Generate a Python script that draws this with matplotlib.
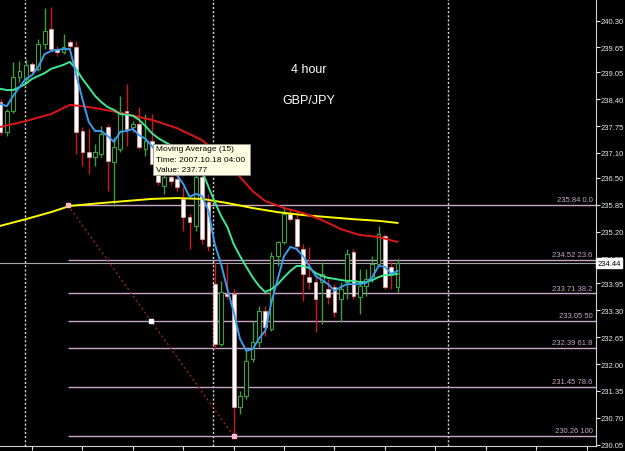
import matplotlib
matplotlib.use("Agg")
import matplotlib.pyplot as plt
from matplotlib.patches import Rectangle
import numpy as np

# GBP/JPY 4h candles (oldest first)
opens = [238.33, 237.61, 238.11, 238.94, 238.89, 239.25, 239.13, 239.73, 240.10, 239.61,
         239.54, 239.78, 239.66, 237.63, 237.12, 237.00, 237.07, 237.73, 236.88, 237.20,
         238.11, 237.73, 237.80, 237.20, 237.39, 236.71, 236.30, 236.52, 236.47, 235.99,
         235.55, 235.34, 236.52, 235.92, 233.93, 232.49, 233.69, 233.69, 230.96, 231.23,
         232.12, 232.53, 233.28, 232.85, 234.61, 234.95, 235.63, 235.50, 234.78, 234.10,
         233.98, 233.98, 233.81, 233.86, 233.57, 233.98, 234.71, 233.62, 233.89, 234.06,
         234.42, 235.09, 234.35, 233.86]
highs = [238.40, 238.16, 239.30, 239.32, 239.37, 239.30, 239.85, 240.60, 240.63, 239.68,
         239.97, 239.83, 239.81, 237.73, 237.68, 237.32, 237.75, 237.80, 237.49, 238.48,
         238.77, 237.87, 238.21, 238.04, 238.04, 237.20, 236.76, 236.66, 236.83, 236.28,
         235.63, 236.57, 236.71, 236.11, 234.46, 234.01, 234.42, 233.81, 231.35, 232.36,
         233.04, 233.40, 233.40, 234.71, 234.97, 235.79, 235.75, 235.70, 234.90, 234.83,
         234.18, 234.46, 234.06, 233.93, 233.98, 234.78, 234.78, 234.30, 234.30, 234.61,
         235.34, 235.14, 234.49, 234.54]
lows = [237.53, 237.51, 238.07, 238.81, 238.81, 239.03, 239.08, 239.61, 239.56, 239.44,
        239.49, 239.61, 237.07, 236.79, 236.59, 236.79, 237.00, 236.18, 235.82, 237.12,
        237.27, 237.61, 237.20, 237.03, 236.95, 236.33, 236.11, 236.33, 236.18, 235.21,
        234.78, 235.21, 234.90, 234.73, 232.36, 232.44, 233.57, 230.26, 230.79, 231.16,
        232.05, 232.41, 232.68, 232.80, 234.37, 234.90, 235.46, 234.73, 233.52, 233.81,
        232.77, 232.97, 233.45, 233.14, 233.02, 233.57, 233.57, 233.21, 233.64, 233.98,
        234.37, 233.81, 233.81, 233.74]
closes = [237.61, 238.11, 238.94, 239.08, 239.23, 239.08, 239.73, 240.05, 239.61, 239.54,
          239.66, 239.68, 237.61, 237.12, 237.00, 237.12, 237.56, 236.91, 237.24, 238.09,
          237.68, 237.80, 237.24, 237.39, 236.83, 236.40, 236.52, 236.42, 236.28, 235.55,
          235.43, 236.52, 235.02, 234.85, 232.49, 233.74, 233.64, 230.96, 231.23, 232.07,
          232.53, 233.28, 232.90, 234.61, 234.95, 235.63, 235.50, 234.85, 234.18, 233.98,
          233.57, 234.18, 233.62, 233.26, 233.81, 234.66, 233.64, 233.89, 234.06, 234.42,
          235.14, 233.86, 234.18, 234.44]

# moving averages, values per candle
ma_blue = [238.28, 238.23, 238.48, 238.69, 238.89, 238.98, 239.18, 239.49, 239.56, 239.59,
           239.61, 239.61, 239.01, 238.40, 237.85, 237.63, 237.63, 237.51, 237.37, 237.61,
           237.63, 237.68, 237.53, 237.44, 237.27, 237.07, 236.88, 236.71, 236.57, 236.35,
           236.04, 236.11, 236.06, 235.70, 234.90, 234.42, 233.81, 233.26, 232.61, 232.32,
           232.36, 232.61, 232.80, 233.50, 234.06, 234.61, 234.83, 234.78, 234.61, 234.37,
           234.13, 234.03, 233.93, 233.77, 233.86, 233.93, 233.93, 233.93, 233.96, 234.10,
           234.37, 234.35, 234.18, 234.25]
ma15 = [238.65, 238.62, 238.62, 238.69, 238.77, 238.89, 238.96, 239.03, 239.13, 239.18,
        239.23, 239.30, 239.13, 238.89, 238.69, 238.48, 238.33, 238.21, 238.14, 238.04,
        238.02, 238.00, 237.90, 237.75, 237.58, 237.46, 237.37, 237.29, 237.24, 237.20,
        237.12, 236.95, 236.66, 236.28, 235.92, 235.58, 235.31, 234.90, 234.61, 234.35,
        234.10, 233.89, 233.74, 233.81, 233.93, 234.10, 234.25, 234.37, 234.37, 234.32,
        234.20, 234.13, 234.08, 234.06, 234.03, 234.01, 234.01, 233.98, 233.98, 234.03,
        234.10, 234.15, 234.15, 234.18]
ma_red_idx = [0, 4, 8, 11, 13, 16, 20, 24, 28, 32, 36, 38, 40, 42, 45, 48, 51, 54, 57, 60, 63]
ma_red = [237.73, 237.87, 238.04, 238.26, 238.23, 238.16, 238.04, 237.90, 237.70, 237.41,
          236.88, 236.52, 236.18, 235.94, 235.77, 235.65, 235.48, 235.26, 235.12, 235.07, 234.95]
ma_yellow_idx = [0, 4, 8, 11, 16, 20, 24, 28, 32, 36, 40, 44, 48, 52, 56, 60, 63]
ma_yellow = [235.34, 235.50, 235.67, 235.82, 235.89, 235.94, 235.99, 236.01, 235.99, 235.89,
             235.77, 235.67, 235.60, 235.55, 235.50, 235.46, 235.41]

fib_levels = [235.84, 234.52, 233.71, 233.05, 232.39, 231.45, 230.26]
fib_names = ['0.0', '23.6', '38.2', '50', '61.8', '78.6', '100']
fib_from, fib_to = 10.7, 37
bid = 234.44
separators = [3.9, 33.8, 71.0]
price_ticks = [240.30, 239.65, 239.05, 238.40, 237.75, 237.10, 236.50, 235.85, 235.20,
               234.55, 233.95, 233.30, 232.65, 232.00, 231.35, 230.70, 230.05]

W, H = 625, 452
fig = plt.figure(figsize=(W / 100, H / 100), dpi=100, facecolor='black')
ax = fig.add_axes([0, 5 / H, 596 / W, 447 / H], facecolor='black')
xmax = 94.5
ax.set_xlim(-0.08, xmax)
ax.set_ylim(230.02, 240.82)

o = np.array(opens); h = np.array(highs); l = np.array(lows); c = np.array(closes)
x = np.arange(len(o))
up = c >= o
green = '#3da03d'
red = '#d01818'

# separators, fibo, bid line
for s in separators:
    ax.axvline(s, color='#d8d8d8', lw=1, ls=(0, (1.5, 1.5)), zorder=1)
ax.hlines(fib_levels, fib_from, xmax, color='#c8a6c8', lw=1, zorder=1)
ax.plot([fib_from, fib_to], [fib_levels[0], fib_levels[-1]], color='#9a2020',
        lw=1, ls=(0, (1.5, 2)), zorder=1)
ax.axhline(bid, color='#a8a8a8', lw=0.8, zorder=1)
for lev, name in zip(fib_levels, fib_names):
    ax.text(94.0, lev + 0.04, f'{lev:.2f} {name}', color='#c8a6c8', fontsize=5.5,
            ha='right', va='bottom', family='Liberation Sans')

# candles
ax.vlines(x[up], l[up], h[up], color=green, lw=1, zorder=2)
ax.vlines(x[~up], l[~up], h[~up], color=red, lw=1, zorder=2)
ax.bar(x[up], c[up] - o[up], bottom=o[up], width=0.6, color='black',
       edgecolor=green, lw=0.8, zorder=3)
ax.bar(x[~up], o[~up] - c[~up], bottom=c[~up], width=0.6, color='white',
       edgecolor='#f0a0a0', lw=0.5, zorder=3)

# moving averages
ax.plot(ma_yellow_idx, ma_yellow, color='#ffff00', lw=1.4, zorder=4)
ax.plot(ma_red_idx, ma_red, color='#e01515', lw=1.4, zorder=4)
ax.plot(x, ma15, color='#3ee890', lw=1.4, zorder=4)
ax.plot(x, ma_blue, color='#3a9cf0', lw=1.4, zorder=4)

# fibo anchor points
ax.plot([fib_from, fib_to], [fib_levels[0], fib_levels[-1]], ls='none', marker='s',
        ms=2.2, color='#ffb8c8', zorder=5)
ax.plot([(fib_from + fib_to) / 2], [(fib_levels[0] + fib_levels[-1]) / 2], ls='none',
        marker='s', ms=2.2, color='white', zorder=5)

# axes styling
for side in ['top', 'left']:
    ax.spines[side].set_visible(False)
for side in ['right', 'bottom']:
    ax.spines[side].set_color('#d0d0d0')
ax.yaxis.tick_right()
ax.set_yticks(price_ticks)
ax.set_yticklabels([f'{p:.2f}' for p in price_ticks])
ax.tick_params(axis='y', colors='#e8e8e8', length=3, pad=0.5, labelsize=5.5)
for lab in ax.get_yticklabels():
    lab.set_family('Liberation Sans')
ax.set_xticks(np.arange(5, 95, 8))
ax.tick_params(axis='x', colors='#e8e8e8', length=3, labelbottom=False)

ax.text(1.002, bid, f'{bid:.2f}', transform=ax.get_yaxis_transform(), ha='left',
        va='center', fontsize=5.5, color='black', family='Liberation Sans',
        bbox=dict(fc='white', ec='white', pad=1.2), zorder=6, clip_on=False)

# titles
fig.text(309 / W, 1 - 70 / H, '4 hour', color='white', fontsize=9,
         ha='center', va='center', family='Liberation Sans')
fig.text(309 / W, 1 - 101 / H, 'GBP/JPY', color='white', fontsize=9,
         ha='center', va='center', family='Liberation Sans')

# tooltip
fig.add_artist(Rectangle((153 / W, 1 - 176 / H), 97 / W, 31 / H, transform=fig.transFigure,
                         fc='#ffffe1', ec='#909090', lw=0.6, zorder=10))
for k, line in enumerate(['Moving Average (15)', 'Time: 2007.10.18 04:00', 'Value: 237.77']):
    fig.text(156 / W, 1 - (150 + 10.5 * k) / H, line, fontsize=6, color='black',
             ha='left', va='center', family='Liberation Sans', zorder=11)

fig.savefig('out.png', dpi=100, facecolor='black')
